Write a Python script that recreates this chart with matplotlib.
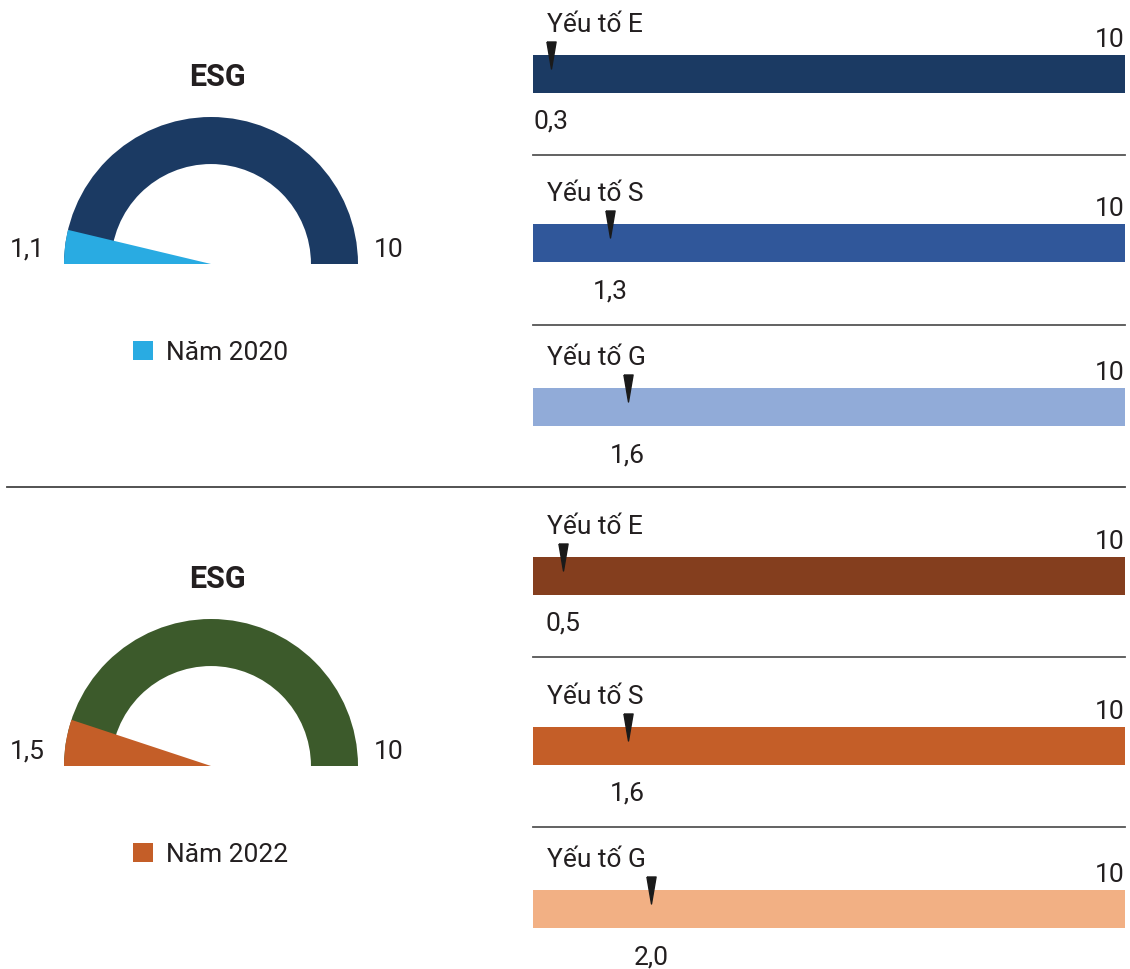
import matplotlib
matplotlib.use("Agg")
import matplotlib.pyplot as plt
from matplotlib.patches import Wedge, Patch
from matplotlib.lines import Line2D
from matplotlib.path import Path

plt.rcParams['font.family'] = ['Roboto', 'DejaVu Sans']

# data
years = ["Năm 2020", "Năm 2022"]
esg_scores = [1.1, 1.5]
esg_labels = ["1,1", "1,5"]
factors = ["Yếu tố E", "Yếu tố S", "Yếu tố G"]
scores_2020 = [0.3, 1.3, 1.6]
scores_2022 = [0.5, 1.6, 2.0]
labels_2020 = ["0,3", "1,3", "1,6"]
labels_2022 = ["0,5", "1,6", "2,0"]
max_score = 10

# styling
W, H = 1130, 969
ring_colors = ["#1B3A63", "#3C5A2B"]
wedge_colors = ["#29ABE2", "#C45E28"]
bar_colors = [["#1B3A63", "#30579A", "#91ABD8"],
              ["#843E1E", "#C45E28", "#F2B084"]]
txt = "#231F20"
fs = 19
gauge_span = 14.75  # value that fills the half circle in the original

fig = plt.figure(figsize=(W / 100, H / 100), dpi=100)


def px(x, y, w, h):
    # pixel box (top-left origin) -> figure fraction rect
    return [x / W, 1 - (y + h) / H, w / W, h / H]


def pt(p):
    return p * 0.72


# gauges
gauge_cy = [264, 766]
gauge_cx = 211
R = 147
for i in range(2):
    ax = fig.add_axes(px(gauge_cx - 200, gauge_cy[i] - 200, 400, 400))
    ax.set_xlim(-200, 200)
    ax.set_ylim(-200, 200)
    ax.set_aspect('equal')
    ax.axis('off')
    ax.add_patch(Wedge((0, 0), R, 0, 180, width=R * 0.32, color=ring_colors[i], lw=0))
    ang = esg_scores[i] / gauge_span * 180
    ax.add_patch(Wedge((0, 0), R, 180 - ang, 180, color=wedge_colors[i], lw=0))
    ax.annotate(esg_labels[i], xy=(-R, 0), xytext=(pt(-19), pt(14)),
                textcoords='offset points', ha='right', va='center',
                fontsize=fs, color=txt)
    ax.annotate(str(max_score), xy=(R, 0), xytext=(pt(16), pt(14)),
                textcoords='offset points', ha='left', va='center',
                fontsize=fs, color=txt)
    fig.text(217 / W, 1 - (gauge_cy[i] - 187) / H, "ESG", ha='center', va='center',
             fontsize=22, fontweight='bold', color=txt)
    fig.legend(handles=[Patch(color=wedge_colors[i], lw=0)], labels=[years[i]],
               loc='center left', bbox_to_anchor=(133 / W, 1 - (gauge_cy[i] + 89) / H),
               frameon=False, fontsize=fs, handlelength=0.75, handleheight=0.75,
               handletextpad=0.5, borderpad=0, borderaxespad=0, labelcolor=txt)

# marker: tall narrow down-pointing triangle
tri = Path([(-0.17, 0.5), (0.17, 0.5), (0, -0.5), (-0.17, 0.5)])

bar_tops = [[55, 224, 388], [557, 727, 890]]
all_scores = [scores_2020, scores_2022]
all_labels = [labels_2020, labels_2022]
bx, bw, bh = 533, 592, 38
for i in range(2):
    for j in range(3):
        ax = fig.add_axes(px(bx, bar_tops[i][j], bw, bh))
        ax.barh(0, max_score, height=1, color=bar_colors[i][j], lw=0)
        ax.set_xlim(0, max_score)
        ax.set_ylim(-0.5, 0.5)
        ax.axis('off')
        v = all_scores[i][j]
        ax.plot([v], [0.5], marker=tri, markersize=pt(27), color="#1a1a1a",
                lw=0, clip_on=False, zorder=5)
        ax.annotate(all_labels[i][j], xy=(v, -0.5), xytext=(0, pt(-29)),
                    textcoords='offset points', ha='center', va='center',
                    fontsize=fs, color=txt)
        ax.annotate(factors[j], xy=(0, 0.5), xytext=(pt(14), pt(30)),
                    textcoords='offset points', ha='left', va='center',
                    fontsize=fs, color=txt)
        ax.annotate(str(max_score), xy=(max_score, 0.5), xytext=(0, pt(15)),
                    textcoords='offset points', ha='right', va='center',
                    fontsize=fs, color=txt)

# separators
for y in [155, 325, 657, 827]:
    fig.add_artist(Line2D([bx / W, (bx + bw) / W], [1 - y / H, 1 - y / H],
                          color="#555555", lw=1.3))
fig.add_artist(Line2D([7 / W, 1125 / W], [1 - 487 / H, 1 - 487 / H],
                      color="#444444", lw=1.3))

fig.savefig("out.png", dpi=100, facecolor='white')
